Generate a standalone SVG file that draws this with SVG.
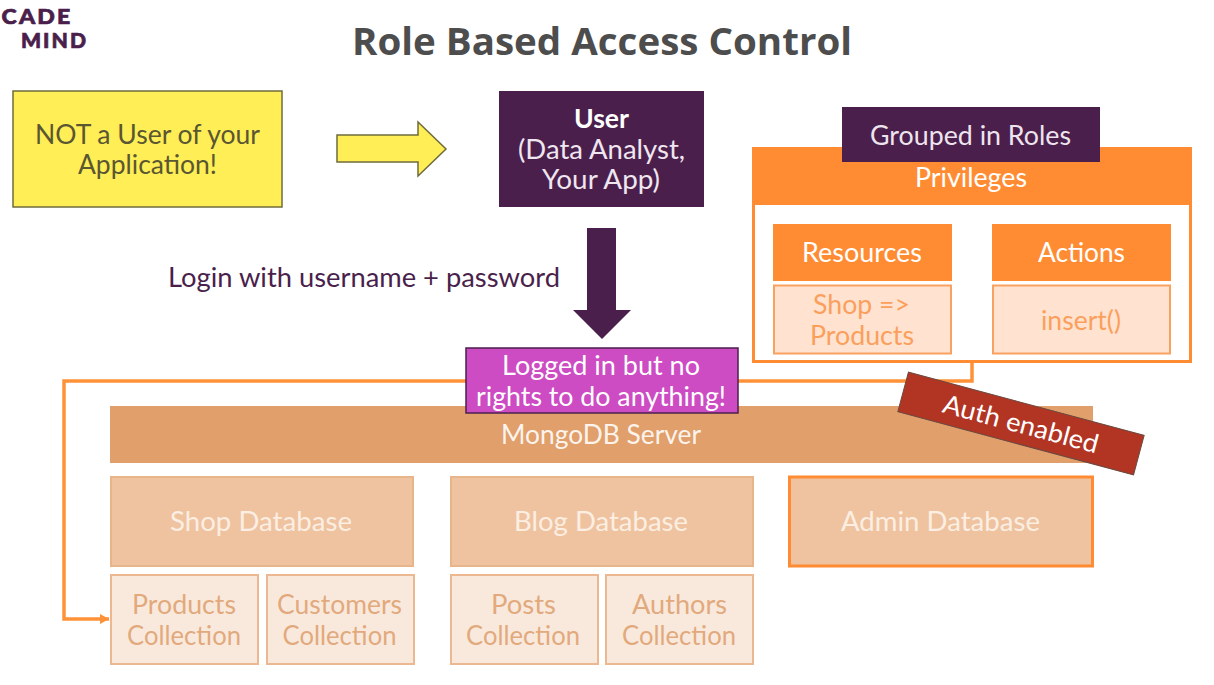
<svg xmlns="http://www.w3.org/2000/svg" width="1214" height="685" viewBox="0 0 1214 685">
<style>
text{font-family:"Lato","Noto Sans",sans-serif;font-size:26px;text-anchor:middle}
.w{fill:#fff}.o{fill:#fb9f5c}.p{fill:#fbeee2}.g{fill:#e2a97c}
.c{fill:#e1a06b}
.or{fill:#ff8c33}
.lo{fill:#ffe3d0;stroke:#f9a160;stroke-width:2}
.db{fill:#efc3a0;stroke:#e8b48a;stroke-width:2}
.col{fill:#f9e9dd;stroke:#ecb892;stroke-width:2}
.line{fill:none;stroke:#ff9238;stroke-width:3.5}
.logo{font-size:21px;font-weight:900;fill:#4a1f4c;stroke:#4a1f4c;stroke-width:.7;letter-spacing:2px}
</style>
<defs><marker id="ah" markerUnits="userSpaceOnUse" markerWidth="12" markerHeight="12" refX="9" refY="5" orient="auto"><path d="M0 0L9 5L0 10z" fill="#ff9238"/></marker></defs>
<g id="logo"><text class="logo" x="37" y="24" textLength="71" lengthAdjust="spacingAndGlyphs">CADE</text><text class="logo" x="54.500" y="48" textLength="67" lengthAdjust="spacingAndGlyphs">MIND</text></g>
<text id="title" x="602" y="55" style="font-family:'Open Sans',sans-serif;font-size:38px;font-weight:700;fill:#4d4d4d" textLength="500" lengthAdjust="spacingAndGlyphs">Role Based Access Control</text>
<g id="connectors">
<path class="line" d="M972 362V381H64V619H109" marker-end="url(#ah)"/>
<path d="M337 135H418V122L446 149L418 176V162H337z" fill="#ffee55" stroke="#6f6b3c" stroke-width="1.5"/>
<path d="M587 228H616V310H631L602 339L573 310H587z" fill="#4a1f4c"/>
</g>
<g id="not-user"><rect x="13" y="91" width="269" height="116" fill="#ffee55" stroke="#6f6b3c" stroke-width="1.5"/><text x="147.500" y="144" fill="#5a5632" textLength="225" lengthAdjust="spacingAndGlyphs">NOT a User of your</text><text x="147.500" y="174" fill="#5a5632" textLength="139" lengthAdjust="spacingAndGlyphs">Application!</text></g>
<g id="user"><rect x="499" y="91" width="205" height="116" fill="#4a1f4c"/><text x="601.500" y="128" class="w" style="font-weight:700" textLength="55" lengthAdjust="spacingAndGlyphs">User</text><text x="601.500" y="159" fill="#f0e6f0" textLength="167" lengthAdjust="spacingAndGlyphs">(Data Analyst,</text><text x="601" y="189" fill="#f0e6f0" textLength="118" lengthAdjust="spacingAndGlyphs">Your App)</text></g>
<text id="login" x="364" y="287" fill="#4a1f4c" textLength="392" lengthAdjust="spacingAndGlyphs">Login with username + password</text>
<g id="privileges"><rect x="753.500" y="148.500" width="437" height="213" fill="#fff" stroke="#ff8c33" stroke-width="3"/><rect x="752" y="147" width="440" height="58" fill="#ff8c33"/><text x="971" y="187" class="w" textLength="112" lengthAdjust="spacingAndGlyphs">Privileges</text></g>
<g id="roles"><rect x="842" y="107" width="258" height="55" fill="#4a1f4c"/><text x="970.500" y="145" fill="#eee4ee" textLength="201" lengthAdjust="spacingAndGlyphs">Grouped in Roles</text></g>
<g id="resources"><rect x="773" y="224" width="179" height="57" class="or"/><text x="862" y="262" class="w" textLength="120" lengthAdjust="spacingAndGlyphs">Resources</text><rect x="774" y="285.500" width="177" height="68" class="lo"/><text x="861.500" y="314" class="o" textLength="97" lengthAdjust="spacingAndGlyphs">Shop =&gt;</text><text x="862" y="345" class="o" textLength="104" lengthAdjust="spacingAndGlyphs">Products</text></g>
<g id="actions"><rect x="992" y="224" width="179" height="57" class="or"/><text x="1081.500" y="262" class="w" textLength="87" lengthAdjust="spacingAndGlyphs">Actions</text><rect x="993" y="285.500" width="177" height="68" class="lo"/><text x="1081" y="330" class="o" textLength="80" lengthAdjust="spacingAndGlyphs">insert()</text></g>
<g id="server"><rect x="110" y="406" width="983" height="57" class="c"/><text x="601" y="444" class="w" fill-opacity=".9" textLength="200" lengthAdjust="spacingAndGlyphs">MongoDB Server</text></g>
<g id="logged-in"><rect x="466" y="348" width="272" height="65" fill="#cd4bc3" stroke="#4a1f4c" stroke-width="1.500"/><text x="601" y="375" class="w" textLength="198" lengthAdjust="spacingAndGlyphs">Logged in but no</text><text x="601" y="406" class="w" textLength="250" lengthAdjust="spacingAndGlyphs">rights to do anything!</text></g>
<g id="auth"><g transform="rotate(15 1021 423.500)"><rect x="899" y="403" width="244" height="41" fill="#b23423" stroke="#6b4a40" stroke-width="1"/><text x="1021" y="433" class="w" textLength="160" lengthAdjust="spacingAndGlyphs">Auth enabled</text></g></g>
<g id="shop-db"><rect x="111" y="477" width="302" height="89" class="db"/><text x="261" y="531" class="p" textLength="182" lengthAdjust="spacingAndGlyphs">Shop Database</text></g>
<g id="blog-db"><rect x="451" y="477" width="302" height="89" class="db"/><text x="601" y="531" class="p" textLength="174" lengthAdjust="spacingAndGlyphs">Blog Database</text></g>
<g id="admin-db"><rect x="789.500" y="477" width="303" height="89" fill="#efc3a0" stroke="#ff8c33" stroke-width="3"/><text x="940.500" y="531" class="p" textLength="199" lengthAdjust="spacingAndGlyphs">Admin Database</text></g>
<g id="products"><rect x="111" y="575" width="147" height="89" class="col"/><text x="184" y="614" class="g" textLength="104" lengthAdjust="spacingAndGlyphs">Products</text><text x="184" y="645" class="g" textLength="114" lengthAdjust="spacingAndGlyphs">Collection</text></g>
<g id="customers"><rect x="267" y="575" width="147" height="89" class="col"/><text x="339.500" y="614" class="g" textLength="125" lengthAdjust="spacingAndGlyphs">Customers</text><text x="339.500" y="645" class="g" textLength="114" lengthAdjust="spacingAndGlyphs">Collection</text></g>
<g id="posts"><rect x="451" y="575" width="147" height="89" class="col"/><text x="523.500" y="614" class="g" textLength="65" lengthAdjust="spacingAndGlyphs">Posts</text><text x="523" y="645" class="g" textLength="114" lengthAdjust="spacingAndGlyphs">Collection</text></g>
<g id="authors"><rect x="606" y="575" width="147" height="89" class="col"/><text x="679.500" y="614" class="g" textLength="95" lengthAdjust="spacingAndGlyphs">Authors</text><text x="679" y="645" class="g" textLength="114" lengthAdjust="spacingAndGlyphs">Collection</text></g>
</svg>
